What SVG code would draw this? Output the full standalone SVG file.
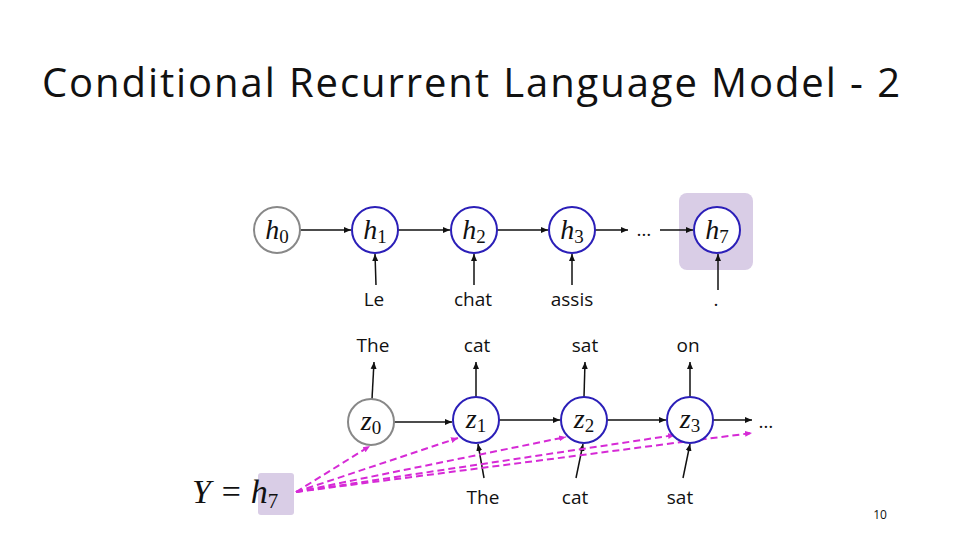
<svg xmlns="http://www.w3.org/2000/svg" width="960" height="540" viewBox="0 0 960 540">
<defs>
<marker id="ar" markerWidth="8" markerHeight="8" refX="7" refY="4" orient="auto" markerUnits="userSpaceOnUse"><path d="M0,1 L7,4 L0,7 z" fill="#111"/></marker>
<marker id="am" markerWidth="8" markerHeight="8" refX="7" refY="4" orient="auto" markerUnits="userSpaceOnUse"><path d="M0,1 L7,4 L0,7 z" fill="#d62ad6"/></marker>
</defs>
<style>
.t{font-family:"Open Sans","Liberation Sans",sans-serif;font-size:19px;fill:#111;text-anchor:middle}
.m{font-family:"Liberation Serif",serif;font-style:italic;font-size:28px;fill:#111;text-anchor:middle}
.s{font-style:normal;font-size:19px}
.c{fill:#fff;stroke:#2b1fb8;stroke-width:2}
.g{fill:#fff;stroke:#888;stroke-width:2}
.e{stroke:#111;stroke-width:1.5;fill:none;marker-end:url(#ar)}
.d{stroke:#d62ad6;stroke-width:2;stroke-dasharray:7,4;fill:none;marker-end:url(#am)}
</style>
<rect width="960" height="540" fill="#fff"/>
<text x="42" y="97" font-family="'Open Sans','Liberation Sans',sans-serif" font-size="40" fill="#111" textLength="858" lengthAdjust="spacing">Conditional Recurrent Language Model - 2</text>
<rect x="679" y="193" width="74" height="77" rx="8" fill="#d9cde6"/>
<rect x="258" y="473" width="36" height="42" rx="3" fill="#d9cde6"/>
<g id="connectors">
<path class="e" d="M300,230 H351"/><path class="e" d="M398,230 H450"/><path class="e" d="M497,230 H548"/>
<path class="e" d="M595,230 H628"/><path class="e" d="M660,230 H693"/>
<path class="e" d="M376,285 L375,254"/><path class="e" d="M474,285 L474,254"/><path class="e" d="M572,285 L572,254"/><path class="e" d="M718,290 L718,254"/>
<path class="e" d="M394,422 H452"/><path class="e" d="M499,420 H560"/><path class="e" d="M607,420 H666"/><path class="e" d="M713,420 H752"/>
<path class="e" d="M372,399 L374,362"/><path class="e" d="M476,397 L476,362"/><path class="e" d="M584,397 L585,362"/><path class="e" d="M690,397 L690,362"/>
<path class="e" d="M484,478 L478,444"/><path class="e" d="M576,478 L583,444"/><path class="e" d="M683,478 L690,444"/>
<path class="d" d="M296,492 L370,446"/><path class="d" d="M296,492 L458,438"/><path class="d" d="M296,492 L566,437"/><path class="d" d="M296,492 L675,435"/><path class="d" d="M296,492 L752,433"/>
</g>
<g id="h0"><circle class="g" cx="277" cy="230" r="23"/><text class="m" x="277" y="239">h<tspan class="s" dy="4">0</tspan></text></g>
<g id="h1"><circle class="c" cx="375" cy="230" r="23"/><text class="m" x="375" y="239">h<tspan class="s" dy="4">1</tspan></text></g>
<g id="h2"><circle class="c" cx="474" cy="230" r="23"/><text class="m" x="474" y="239">h<tspan class="s" dy="4">2</tspan></text></g>
<g id="h3"><circle class="c" cx="572" cy="230" r="23"/><text class="m" x="572" y="239">h<tspan class="s" dy="4">3</tspan></text></g>
<text class="t" x="644" y="236">…</text>
<g id="h7"><circle class="c" cx="717" cy="230" r="23"/><text class="m" x="717" y="239">h<tspan class="s" dy="4">7</tspan></text></g>
<text class="t" x="374" y="306">Le</text><text class="t" x="473" y="306">chat</text><text class="t" x="572" y="306">assis</text><text class="t" x="716" y="306">.</text>
<text class="t" x="373" y="352">The</text><text class="t" x="477" y="352">cat</text><text class="t" x="585" y="352">sat</text><text class="t" x="688" y="352">on</text>
<g id="z0"><circle class="g" cx="371" cy="422" r="23"/><text class="m" x="371" y="430">z<tspan class="s" dy="4">0</tspan></text></g>
<g id="z1"><circle class="c" cx="476" cy="420" r="23"/><text class="m" x="476" y="428">z<tspan class="s" dy="4">1</tspan></text></g>
<g id="z2"><circle class="c" cx="584" cy="420" r="23"/><text class="m" x="584" y="428">z<tspan class="s" dy="4">2</tspan></text></g>
<g id="z3"><circle class="c" cx="690" cy="420" r="23"/><text class="m" x="690" y="428">z<tspan class="s" dy="4">3</tspan></text></g>
<text class="t" x="766" y="428" font-size="15">…</text>
<text class="t" x="483" y="504">The</text><text class="t" x="575" y="504">cat</text><text class="t" x="680" y="504">sat</text>
<g id="Y"><text class="m" x="192" y="503" style="font-size:34px;text-anchor:start">Y = h<tspan class="s" dy="5" style="font-size:21px">7</tspan></text></g>
<text x="880" y="519" font-family="'Open Sans','Liberation Sans',sans-serif" font-size="12" fill="#111" text-anchor="middle">10</text>
</svg>
